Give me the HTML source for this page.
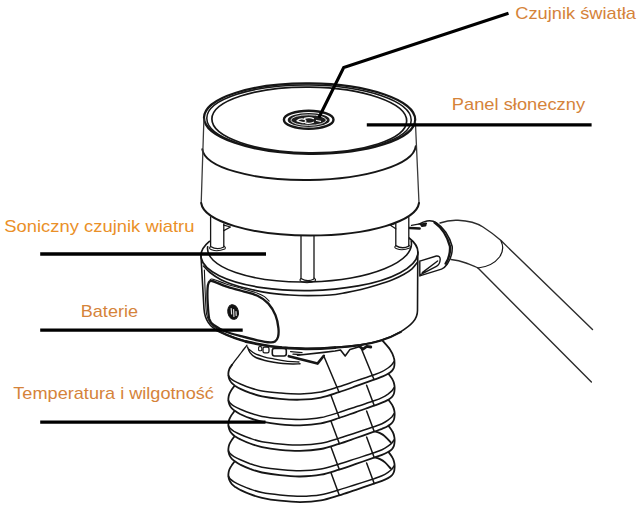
<!DOCTYPE html>
<html lang="pl"><head><meta charset="utf-8"><title>Czujnik</title>
<style>
html,body{margin:0;padding:0;background:#fff;}
body{width:640px;height:514px;overflow:hidden;font-family:"Liberation Sans",sans-serif;}
svg{display:block}
svg text{font-family:"Liberation Sans",sans-serif;font-size:17px;}
</style></head><body>
<svg width="640" height="514" viewBox="0 0 640 514" fill="none" stroke="#161616" stroke-linecap="round" stroke-linejoin="round">
<rect x="0" y="0" width="640" height="514" fill="#fff" stroke="none"/>
<path d="M234.2,461.9 L231.2,466.1 L229.2,470.0 L228.4,474.0 L228.7,477.8 L229.9,481.2 L231.9,484.1 L235.2,486.9 L240.4,490.0 L250.0,494.2 L262.0,497.8 L280.0,500.7 L300.0,502.1 L320.9,500.4 L339.0,495.4 L356.0,489.8 L374.0,483.7 L382.0,480.8 L388.0,478.1 L391.8,475.4 L393.9,472.0 L394.6,467.4 L394.3,462.9 L392.6,457.9 L388.6,452.1Z" fill="#fff" stroke="none"/>
<path d="M234.2,461.9 C233.7,462.6 232.0,464.7 231.2,466.1 C230.4,467.4 229.7,468.7 229.2,470.0 C228.7,471.3 228.5,472.7 228.4,474.0 C228.3,475.3 228.4,476.6 228.7,477.8 C228.9,479.0 229.4,480.2 229.9,481.2 C230.4,482.3 231.0,483.1 231.9,484.1 C232.8,485.0 233.8,485.9 235.2,486.9 C236.6,487.8 237.9,488.7 240.4,490.0 C242.9,491.2 246.4,492.9 250.0,494.2 C253.6,495.5 257.0,496.7 262.0,497.8 C267.0,498.9 273.7,500.0 280.0,500.7 C286.3,501.4 293.2,502.1 300.0,502.1 C306.8,502.0 314.4,501.5 320.9,500.4 C327.4,499.3 333.1,497.2 339.0,495.4 C344.9,493.6 350.2,491.7 356.0,489.8 C361.8,487.8 369.7,485.2 374.0,483.7 C378.3,482.2 379.7,481.8 382.0,480.8 C384.3,479.9 386.4,479.0 388.0,478.1 C389.6,477.2 390.8,476.4 391.8,475.4 C392.8,474.3 393.4,473.3 393.9,472.0 C394.4,470.7 394.5,468.9 394.6,467.4 C394.7,465.9 394.6,464.5 394.3,462.9 C394.0,461.3 393.6,459.7 392.6,457.9 C391.7,456.1 389.3,453.0 388.6,452.1" stroke-width="1.8" />
<path d="M228.5,476.2 C228.8,476.7 229.5,478.1 230.4,479.1 C231.3,480.0 232.3,480.8 234.0,481.8 C235.7,482.8 237.7,483.9 240.4,485.1 C243.1,486.3 246.4,487.7 250.0,489.0 C253.6,490.2 257.0,491.5 262.0,492.5 C267.0,493.5 273.6,494.3 280.0,494.9 C286.4,495.5 293.6,496.3 300.4,496.3 C307.2,496.2 314.5,495.8 320.9,494.7 C327.3,493.7 332.8,491.7 338.6,490.0 C344.5,488.3 350.1,486.3 356.0,484.5 C361.9,482.6 369.7,480.2 374.0,478.8 C378.3,477.3 379.7,476.8 382.0,475.7 C384.3,474.7 386.4,473.4 388.0,472.3 C389.6,471.2 390.8,470.2 391.8,469.2 C392.8,468.1 393.6,466.5 394.0,466.0" stroke-width="1.5" />
<path d="M331.0,472.8 L339.3,495.2" stroke-width="1.5" />
<path d="M366.6,463.0 L374.2,483.5" stroke-width="1.5" />
<path d="M375.2,457.6 C376.0,457.8 378.4,458.3 380.0,459.1 C381.6,459.9 383.2,460.8 385.0,462.4 C386.8,464.0 389.8,467.5 390.8,468.5" stroke-width="1.9" />
<path d="M234.2,436.7 L231.2,440.9 L229.2,444.8 L228.4,448.8 L228.7,452.6 L229.9,456.0 L231.9,458.9 L235.2,461.6 L240.4,464.7 L250.0,468.9 L262.0,472.5 L280.0,475.2 L300.0,476.5 L320.9,474.7 L339.0,469.6 L356.0,463.9 L374.0,457.7 L382.0,454.8 L388.0,452.0 L391.8,449.3 L393.9,445.9 L394.6,441.3 L394.3,436.8 L392.6,431.8 L388.6,426.0Z" fill="#fff" stroke="none"/>
<path d="M234.2,436.7 C233.7,437.4 232.0,439.5 231.2,440.9 C230.4,442.2 229.7,443.5 229.2,444.8 C228.7,446.1 228.5,447.5 228.4,448.8 C228.3,450.1 228.4,451.4 228.7,452.6 C228.9,453.8 229.4,455.0 229.9,456.0 C230.4,457.1 231.0,457.9 231.9,458.9 C232.8,459.8 233.8,460.6 235.2,461.6 C236.6,462.6 237.9,463.5 240.4,464.7 C242.9,465.9 246.4,467.6 250.0,468.9 C253.6,470.1 257.0,471.4 262.0,472.5 C267.0,473.5 273.7,474.6 280.0,475.2 C286.3,475.9 293.2,476.6 300.0,476.5 C306.8,476.4 314.4,475.9 320.9,474.7 C327.4,473.6 333.1,471.4 339.0,469.6 C344.9,467.8 350.2,465.9 356.0,463.9 C361.8,461.9 369.7,459.2 374.0,457.7 C378.3,456.2 379.7,455.8 382.0,454.8 C384.3,453.9 386.4,452.9 388.0,452.0 C389.6,451.1 390.8,450.3 391.8,449.3 C392.8,448.2 393.4,447.2 393.9,445.9 C394.4,444.6 394.5,442.8 394.6,441.3 C394.7,439.8 394.6,438.4 394.3,436.8 C394.0,435.2 393.6,433.6 392.6,431.8 C391.7,430.0 389.3,427.0 388.6,426.0" stroke-width="1.8" />
<path d="M228.5,451.0 C228.8,451.5 229.5,452.9 230.4,453.8 C231.3,454.8 232.3,455.6 234.0,456.6 C235.7,457.6 237.7,458.6 240.4,459.8 C243.1,461.0 246.4,462.4 250.0,463.7 C253.6,464.9 257.0,466.2 262.0,467.2 C267.0,468.1 273.6,468.9 280.0,469.4 C286.4,470.0 293.6,470.8 300.4,470.7 C307.2,470.6 314.5,470.1 320.9,469.0 C327.3,467.9 332.8,465.9 338.6,464.2 C344.5,462.5 350.1,460.5 356.0,458.6 C361.9,456.7 369.7,454.3 374.0,452.8 C378.3,451.3 379.7,450.8 382.0,449.7 C384.3,448.6 386.4,447.3 388.0,446.2 C389.6,445.1 390.8,444.1 391.8,443.1 C392.8,442.0 393.6,440.4 394.0,439.9" stroke-width="1.5" />
<path d="M331.0,447.1 L339.3,469.4" stroke-width="1.5" />
<path d="M366.6,437.1 L374.2,457.5" stroke-width="1.5" />
<path d="M375.2,431.6 C376.0,431.8 378.4,432.3 380.0,433.1 C381.6,433.9 383.2,434.8 385.0,436.4 C386.8,437.9 389.8,441.4 390.8,442.4" stroke-width="1.9" />
<path d="M234.2,411.5 L231.2,415.6 L229.2,419.6 L228.4,423.6 L228.7,427.4 L229.9,430.8 L231.9,433.6 L235.2,436.4 L240.4,439.4 L250.0,443.5 L262.0,447.1 L280.0,449.8 L300.0,450.9 L320.9,449.0 L339.0,443.8 L356.0,438.0 L374.0,431.7 L382.0,428.8 L388.0,425.9 L391.8,423.2 L393.9,419.8 L394.6,415.2 L394.3,410.7 L392.6,405.7 L388.6,399.9Z" fill="#fff" stroke="none"/>
<path d="M234.2,411.5 C233.7,412.2 232.0,414.3 231.2,415.6 C230.4,417.0 229.7,418.3 229.2,419.6 C228.7,420.9 228.5,422.3 228.4,423.6 C228.3,424.9 228.4,426.2 228.7,427.4 C228.9,428.6 229.4,429.8 229.9,430.8 C230.4,431.9 231.0,432.7 231.9,433.6 C232.8,434.6 233.8,435.4 235.2,436.4 C236.6,437.3 237.9,438.2 240.4,439.4 C242.9,440.6 246.4,442.3 250.0,443.5 C253.6,444.8 257.0,446.0 262.0,447.1 C267.0,448.1 273.7,449.1 280.0,449.8 C286.3,450.4 293.2,451.0 300.0,450.9 C306.8,450.8 314.4,450.2 320.9,449.0 C327.4,447.8 333.1,445.6 339.0,443.8 C344.9,442.0 350.2,440.0 356.0,438.0 C361.8,436.0 369.7,433.2 374.0,431.7 C378.3,430.1 379.7,429.7 382.0,428.8 C384.3,427.8 386.4,426.9 388.0,425.9 C389.6,425.0 390.8,424.2 391.8,423.2 C392.8,422.2 393.4,421.1 393.9,419.8 C394.4,418.5 394.5,416.7 394.6,415.2 C394.7,413.7 394.6,412.3 394.3,410.7 C394.0,409.1 393.6,407.5 392.6,405.7 C391.7,403.9 389.3,400.9 388.6,399.9" stroke-width="1.8" />
<path d="M228.5,425.8 C228.8,426.3 229.5,427.7 230.4,428.6 C231.3,429.6 232.3,430.4 234.0,431.4 C235.7,432.3 237.7,433.4 240.4,434.5 C243.1,435.7 246.4,437.1 250.0,438.3 C253.6,439.5 257.0,440.8 262.0,441.8 C267.0,442.7 273.6,443.4 280.0,444.0 C286.4,444.5 293.6,445.2 300.4,445.1 C307.2,445.0 314.5,444.4 320.9,443.3 C327.3,442.2 332.8,440.2 338.6,438.4 C344.5,436.6 350.1,434.6 356.0,432.7 C361.9,430.8 369.7,428.3 374.0,426.8 C378.3,425.3 379.7,424.8 382.0,423.7 C384.3,422.6 386.4,421.3 388.0,420.1 C389.6,419.0 390.8,418.0 391.8,417.0 C392.8,415.9 393.6,414.3 394.0,413.8" stroke-width="1.5" />
<path d="M331.0,421.3 L339.3,443.6" stroke-width="1.5" />
<path d="M366.6,411.1 L374.2,431.5" stroke-width="1.5" />
<path d="M234.2,386.2 L231.2,390.4 L229.2,394.4 L228.4,398.4 L228.7,402.2 L229.9,405.6 L231.9,408.4 L235.2,411.1 L240.4,414.2 L250.0,418.2 L262.0,421.7 L280.0,424.3 L300.0,425.3 L320.9,423.3 L339.0,418.0 L356.0,412.1 L374.0,405.7 L382.0,402.7 L388.0,399.9 L391.8,397.1 L393.9,393.7 L394.6,389.1 L394.3,384.6 L392.6,379.6 L388.6,373.9Z" fill="#fff" stroke="none"/>
<path d="M234.2,386.2 C233.7,386.9 232.0,389.1 231.2,390.4 C230.4,391.8 229.7,393.1 229.2,394.4 C228.7,395.7 228.5,397.1 228.4,398.4 C228.3,399.7 228.4,401.0 228.7,402.2 C228.9,403.4 229.4,404.6 229.9,405.6 C230.4,406.6 231.0,407.5 231.9,408.4 C232.8,409.3 233.8,410.2 235.2,411.1 C236.6,412.1 237.9,413.0 240.4,414.2 C242.9,415.3 246.4,417.0 250.0,418.2 C253.6,419.5 257.0,420.7 262.0,421.7 C267.0,422.7 273.7,423.7 280.0,424.3 C286.3,424.9 293.2,425.5 300.0,425.3 C306.8,425.1 314.4,424.5 320.9,423.3 C327.4,422.1 333.1,419.9 339.0,418.0 C344.9,416.1 350.2,414.1 356.0,412.1 C361.8,410.0 369.7,407.3 374.0,405.7 C378.3,404.1 379.7,403.7 382.0,402.7 C384.3,401.8 386.4,400.8 388.0,399.9 C389.6,398.9 390.8,398.1 391.8,397.1 C392.8,396.1 393.4,395.0 393.9,393.7 C394.4,392.4 394.5,390.6 394.6,389.1 C394.7,387.6 394.6,386.2 394.3,384.6 C394.0,383.0 393.6,381.4 392.6,379.6 C391.7,377.8 389.3,374.8 388.6,373.9" stroke-width="1.8" />
<path d="M228.5,400.6 C228.8,401.1 229.5,402.5 230.4,403.4 C231.3,404.3 232.3,405.2 234.0,406.1 C235.7,407.1 237.7,408.1 240.4,409.3 C243.1,410.4 246.4,411.8 250.0,413.0 C253.6,414.2 257.0,415.5 262.0,416.4 C267.0,417.3 273.6,418.0 280.0,418.5 C286.4,419.0 293.6,419.6 300.4,419.5 C307.2,419.3 314.5,418.8 320.9,417.6 C327.3,416.5 332.8,414.4 338.6,412.6 C344.5,410.8 350.1,408.8 356.0,406.8 C361.9,404.8 369.7,402.3 374.0,400.8 C378.3,399.3 379.7,398.8 382.0,397.6 C384.3,396.5 386.4,395.2 388.0,394.1 C389.6,392.9 390.8,391.9 391.8,390.9 C392.8,389.8 393.6,388.2 394.0,387.7" stroke-width="1.5" />
<path d="M331.0,395.6 L339.3,417.8" stroke-width="1.5" />
<path d="M366.6,385.2 L374.2,405.5" stroke-width="1.5" />
<path d="M247.0,345.2 L242.0,351.6 L237.0,358.2 L232.0,364.8 L229.4,368.8 L228.4,373.0 L228.7,377.0 L229.9,380.4 L231.9,383.2 L235.2,385.9 L240.4,388.9 L250.0,392.9 L262.0,396.3 L280.0,398.8 L300.0,399.7 L320.9,397.6 L339.0,392.2 L356.0,386.2 L374.0,379.7 L382.0,376.7 L388.0,373.8 L391.8,371.0 L393.9,367.6 L394.5,363.5 L393.8,357.5 L390.0,349.5 L381.5,339.5Z" fill="#fff" stroke="none"/>
<path d="M247.0,345.2 C246.2,346.3 243.7,349.4 242.0,351.6 C240.3,353.8 238.7,356.0 237.0,358.2 C235.3,360.4 232.8,363.7 232.0,364.8" stroke-width="1.3" />
<path d="M232.0,364.8 C231.6,365.5 230.0,367.4 229.4,368.8 C228.8,370.2 228.5,371.6 228.4,373.0 C228.3,374.4 228.4,375.8 228.7,377.0 C228.9,378.2 229.4,379.4 229.9,380.4 C230.4,381.4 231.0,382.3 231.9,383.2 C232.8,384.1 233.8,384.9 235.2,385.9 C236.6,386.8 237.9,387.7 240.4,388.9 C242.9,390.1 246.4,391.7 250.0,392.9 C253.6,394.1 257.0,395.3 262.0,396.3 C267.0,397.3 273.7,398.2 280.0,398.8 C286.3,399.4 293.2,399.9 300.0,399.7 C306.8,399.5 314.4,398.9 320.9,397.6 C327.4,396.4 333.1,394.1 339.0,392.2 C344.9,390.3 350.2,388.3 356.0,386.2 C361.8,384.1 369.7,381.3 374.0,379.7 C378.3,378.1 379.7,377.7 382.0,376.7 C384.3,375.7 386.4,374.8 388.0,373.8 C389.6,372.9 390.8,372.0 391.8,371.0 C392.8,370.0 393.4,368.9 393.9,367.6 C394.3,366.4 394.5,365.2 394.5,363.5 C394.5,361.8 394.6,359.8 393.8,357.5 C393.1,355.2 392.1,352.5 390.0,349.5 C387.9,346.5 382.9,341.2 381.5,339.5" stroke-width="1.8" />
<path d="M228.5,375.4 C228.8,375.9 229.5,377.3 230.4,378.2 C231.3,379.1 232.3,379.9 234.0,380.9 C235.7,381.9 237.7,382.9 240.4,384.0 C243.1,385.1 246.4,386.5 250.0,387.7 C253.6,388.9 257.0,390.1 262.0,391.0 C267.0,391.9 273.6,392.5 280.0,393.0 C286.4,393.5 293.6,394.1 300.4,393.9 C307.2,393.7 314.5,393.1 320.9,391.9 C327.3,390.7 332.8,388.6 338.6,386.8 C344.5,385.0 350.1,382.9 356.0,380.9 C361.9,378.9 369.7,376.4 374.0,374.8 C378.3,373.2 379.7,372.7 382.0,371.6 C384.3,370.5 386.4,369.1 388.0,368.0 C389.6,366.9 390.8,365.9 391.8,364.8 C392.8,363.7 393.6,362.1 394.0,361.6" stroke-width="1.5" />
<path d="M323.8,356.0 L339.0,392.0" stroke-width="1.5" />
<path d="M361.4,348.8 L374.0,379.5" stroke-width="1.5" />
<path d="M247.5,347.0 C247.9,347.9 248.8,350.9 250.0,352.6 C251.2,354.3 252.7,355.7 255.0,357.0 C257.3,358.3 260.9,359.3 264.0,360.2 C267.1,361.1 270.5,361.7 273.7,362.2 C276.9,362.7 279.9,363.1 283.0,363.4 C286.1,363.7 289.7,363.9 292.5,364.0 C295.3,364.1 298.8,363.8 300.0,363.8" stroke-width="1.5" />
<path d="M249.0,349.4 C250.0,350.1 252.5,352.5 255.0,353.7 C257.5,354.9 260.9,355.9 264.0,356.8 C267.1,357.7 270.5,358.3 273.7,358.9 C276.9,359.5 279.9,360.1 283.0,360.6 C286.1,361.1 289.8,361.5 292.5,361.7 C295.2,361.9 297.9,361.9 299.0,362.0" stroke-width="1.3" />
<rect x="272.3" y="348.4" width="14" height="7.6" rx="2.2" stroke-width="1.6" fill="#fff"/>
<rect x="263" y="347.2" width="6" height="5.6" rx="1.6" stroke-width="1.3" fill="#fff"/>
<rect x="258.6" y="346.6" width="3.2" height="4.2" rx="1" stroke-width="1.1" fill="#fff"/>
<path d="M290.6,351.6 L302,352.6 M293,354.2 l7,0.3" stroke-width="1.3" />
<path d="M288.8,356.2 L317.5,363.6 L323.8,355.8" stroke-width="2.6" />
<path d="M297.5,355.2 L323.8,352.4 L335,351 L340.5,350 L345.2,356 L350,349.4 L360,346.6" stroke-width="1.6" />
<path d="M359,346 l4,3.2 l3.8,-2.8 l4,0.6" stroke-width="2.8" />
<path d="M440,223 C447,220.5 452,220 458,220.3 C468,220.8 476,222.5 483,227 C490,231.5 496,236 501,241 L592.5,329.6 L591.4,382 L478,268 C472,265.5 466,262.5 460,261 L451,259.5 Z" fill="#fff" stroke="none"/>
<path d="M440,223 C447,220.5 452,220 458,220.3 C468,220.8 476,222.5 483,227 C490,231.5 496,236 501,240.6 L592.5,329.6" stroke-width="1.4" stroke="#2c2c2c"/>
<path d="M451,259.5 C456,260 462,261.5 466,263 C471,265 475,266.5 478,268 L591.4,382" stroke-width="1.4" stroke="#2c2c2c"/>
<path d="M501,241 C503.5,246 503,252 499.5,257 C495,263 487,267 478,268" stroke-width="1.2" />
<path d="M413,227 C418,223 423,221 427,221 C431,220.6 434.2,221.4 436,222.6 C443,226 449,236 452,246.5 C452.4,253 451,258 447.3,264 C445,267 443,268.5 441.5,269.1 L419.6,276 L417,277 L417,250 Z" fill="#fff" stroke="none"/>
<path d="M419,224.2 C422,222.4 424.5,221.4 427,221 C431,220.4 434,221.2 436.5,222.8 C443,227 449.5,236 452.2,246.5 C452.6,253 451,258.5 447.3,264 C445.2,267 443.3,268.5 441.5,269.1 L420.5,275.6" stroke-width="1.5" />
<path d="M434.6,222.6 C441.5,227.5 447.6,237 450,246.5 C450.4,253 449,258.5 445.6,263.6" stroke-width="2.4" />
<path d="M419.8,261.2 L436.4,256 C439,255.8 440.3,257 440.2,259.5 C440,262.5 439,265 436.4,266.4 L421,274.4 M419.8,261 L419.8,276 M422.3,272.6 L437.6,261" stroke-width="1.4" />
<path d="M409.8,228 L419.6,228.5" stroke-width="2.6" />
<path d="M411.5,225.3 L421,223.7" stroke-width="1.3" />
<path d="M421,224.6 L426,223.6 M422,225.8 l3.4,-0.5" stroke-width="2.2" />
<path d="M201,256 C202,275 203.5,300 204,309 C205,322 212,328 218.4,331 C225,334.2 230,336.2 235,338 C243,340.6 250,342.4 258.4,344.2 C266,345.7 274,346.6 282,347.4 C290,348 298,348.5 305.3,348.6 C315,348.7 325,348.2 335,347.4 C344,346.8 352,346 360.4,344.9 C368,343.7 375,342.2 381,340.3 C388,338 395,335 401,331.6 C411,325.4 417.5,319.5 417.5,310.5 L417.8,252 A108.5,39 -1 0 0 201,256Z" fill="#fff" stroke="none"/>
<ellipse cx="309.5" cy="254" rx="108.5" ry="36.6" transform="rotate(-1 309.5 254)" stroke="none" fill="#fff"/>
<path d="M209.4,241.4 A108.5,36.6 -1 1 0 409.1,238.0" stroke-width="1.7" />
<path d="M207.7,246.7 A102,35.5 -1.5 1 0 411.2,241.4" stroke-width="1.6" />
<path d="M203.5,266.0 C204.6,267.1 207.1,270.2 210.0,272.5 C212.9,274.8 216.7,277.5 221.0,279.7 C225.3,281.9 230.8,283.8 236.0,285.5 C241.2,287.2 246.8,288.5 252.5,289.8 C258.2,291.1 263.8,292.2 270.0,293.1 C276.2,294.0 283.7,294.6 290.0,295.0 C296.3,295.4 301.3,295.6 308.0,295.6 C314.7,295.6 323.7,295.5 330.0,295.0 C336.3,294.5 340.8,293.5 346.0,292.6 C351.2,291.7 355.8,290.8 361.0,289.5 C366.2,288.2 371.8,286.6 377.0,285.0 C382.2,283.4 388.0,281.5 392.5,279.7 C397.0,277.9 400.8,276.0 404.0,274.2 C407.2,272.4 409.7,270.8 412.0,268.8 C414.3,266.8 416.7,263.1 417.6,262.0" stroke-width="1.6" />
<path d="M201,256 C202,275 203.5,300 204,309 C205,322 212,328 218.4,331 C225,334.2 230,336.2 235,338 C243,340.6 250,342.4 258.4,344.2 C266,345.7 274,346.6 282,347.4 C290,348 298,348.5 305.3,348.6 C315,348.7 325,348.2 335,347.4 C344,346.8 352,346 360.4,344.9 C368,343.7 375,342.2 381,340.3 C388,338 395,335 401,331.6 C411,325.4 417.5,319.5 417.5,310.5 L417.8,252" stroke-width="1.6" />
<path d="M216,330 C225,334.4 230,336.4 235,338.2 C240,340 243,340.8 246,341.6" stroke-width="2.3" />
<path d="M246,341.6 C266,346 274,346.8 282,347.6 C290,348.2 298,348.7 305.3,348.8 C315,348.9 325,348.4 335,347.6" stroke-width="2.7" />
<path d="M335,347.6 C344,347 352,346.2 360.4,345.1 C368,343.9 375,342.4 381,340.5 C388,338.2 395,335.2 401,331.8" stroke-width="2.1" />
<path d="M204.4,270 C205,290 205.5,305 206.5,314 C208,322 212,326.5 218,329.6" stroke-width="1.1" />
<path d="M212.0,281.0 C214.9,281.6 221.0,284.7 226.0,286.4 C231.0,288.1 236.8,289.4 242.0,291.0 C247.2,292.6 253.1,293.7 257.5,295.8 C261.9,297.9 265.4,300.4 268.4,303.6 C271.4,306.9 273.8,311.2 275.5,315.3 C277.2,319.4 278.0,324.4 278.4,328.0 C278.8,331.6 278.6,334.8 278.0,337.0 C277.4,339.2 276.3,340.6 275.0,341.5 C273.7,342.4 272.9,342.6 270.0,342.4 C267.1,342.2 262.2,341.3 257.5,340.3 C252.8,339.3 247.2,337.8 242.0,336.4 C236.8,335.0 230.6,333.5 226.0,331.7 C221.4,329.9 217.3,327.6 214.5,325.5 C211.7,323.4 210.5,323.1 209.3,319.0 C208.2,314.9 207.9,306.2 207.6,301.0 C207.3,295.8 207.4,291.0 207.6,288.0 C207.8,285.0 207.9,284.2 208.6,283.0 C209.3,281.8 209.1,280.4 212.0,281.0Z" stroke-width="2.3" />
<path d="M210.2,279.6 C210.7,279.5 210.4,278.5 213.0,279.2 C215.6,279.9 221.2,282.3 226.0,283.9 C230.8,285.4 236.8,286.9 242.0,288.5 C247.2,290.1 253.8,291.8 257.5,293.2 C261.2,294.6 262.6,295.3 264.5,296.6 C266.4,297.9 268.4,300.4 269.2,301.2" stroke-width="1.1" />
<ellipse cx="233.1" cy="312" rx="5.3" ry="7.4" transform="rotate(-12 233.1 312)" stroke-width="1" fill="#111"/>
<path d="M231.2,308.5 L231.6,314 M233.6,309.5 L233.9,316.5 M236,311.5 L236.2,315.5" stroke="#ddd" stroke-width="1.2" fill="none"/>
<path d="M210.6,217 L210.6,246.5 Q217.2,250.5 223.8,247.0 L223.8,224" fill="#fff" stroke-width="1.3"/>
<path d="M210.6,246.5 Q208.1,248.5 211.6,249.7 Q217.2,252.0 224.8,249.0 Q226.3,247.5 223.8,246.0" stroke-width="1.1"/>
<path d="M395.8,224 L395.8,245.6 Q402.3,249.6 408.8,246.1 L408.8,217.5" fill="#fff" stroke-width="1.3"/>
<path d="M395.8,245.6 Q393.3,247.6 396.8,248.79999999999998 Q402.3,251.1 409.8,248.1 Q411.3,246.6 408.8,245.1" stroke-width="1.1"/>
<path d="M301,236 L301,278.5 Q307.5,282.5 314,279.0 L314,236" fill="#fff" stroke-width="1.3"/>
<path d="M301,278.5 Q298.5,280.5 302,281.7 Q307.5,284.0 315,281.0 Q316.5,279.5 314,278.0" stroke-width="1.1"/>
<path d="M223.8,225.2 L230.5,227 L223.8,230.6" stroke-width="1.2" />
<path d="M395.8,223.3 L390.4,225.2 L395.8,228.8" stroke-width="1.2" />
<path d="M204,119 L201.2,203 A109,34 0 0 0 419,203 L415.3,121 Z" fill="#fff" stroke="none"/>
<g transform="rotate(0.6 309.5 118.6)">
<ellipse cx="309.6" cy="118.6" rx="105.6" ry="35.2" stroke-width="2.2" fill="#fff"/>
<ellipse cx="309" cy="119.2" rx="102.2" ry="34.2" stroke-width="1.5"/>
<ellipse cx="309.3" cy="120" rx="97.4" ry="32.9" stroke-width="1.7"/>
</g>
<path d="M202.3,149.3 A106.8,33.6 -0.8 0 0 415.7,146.3" stroke-width="1.9" />
<path d="M203.9,119 L201.2,203 M419,203 L415.4,122" stroke-width="1.3" stroke="#3a3a3a"/>
<path d="M201.2,203 A109,34 0 0 0 419,203" stroke-width="2" />
<ellipse cx="308.7" cy="119.7" rx="24.8" ry="9" stroke-width="2.4" fill="#fff"/>
<ellipse cx="308.7" cy="120" rx="21" ry="6.9" stroke="none" fill="#1d1d1d"/>
<ellipse cx="308.7" cy="120.1" rx="17.8" ry="5.3" stroke="#e8e8e8" stroke-width="0.9" fill="none"/>
<path d="M297,120.8 q3.6,-3.2 8,-1.2 q2.6,2.6 -2,3 z M304.5,118.4 q5,-1.6 9,0.2 M305.5,122.8 q4.5,1.2 8,-0.6 M316.5,120.5 l4,0.8" stroke="#f4f4f4" stroke-width="1.25" fill="none"/>
<path d="M40.2,254 L266,254" stroke="#000" stroke-width="3.3" stroke-linecap="butt"/>
<path d="M40.2,330.1 L242.7,330.1" stroke="#000" stroke-width="3.3" stroke-linecap="butt"/>
<path d="M40.2,422.1 L265.5,422.1" stroke="#000" stroke-width="3.3" stroke-linecap="butt"/>
<path d="M366.8,124.9 L591.6,124.9" stroke="#000" stroke-width="3.3" stroke-linecap="butt"/>
<path d="M508.5,13.2 L343.7,67.5 L318.8,117.8" stroke="#000" stroke-width="3.1" stroke-linejoin="miter" stroke-linecap="butt"/>
<text x="4.3" y="231.6" textLength="190.2" lengthAdjust="spacingAndGlyphs" fill="#ea9028" stroke="none">Soniczny czujnik wiatru</text>
<text x="80.8" y="316.5" textLength="57.2" lengthAdjust="spacingAndGlyphs" fill="#d5833a" stroke="none">Baterie</text>
<text x="13.3" y="398.7" textLength="200.6" lengthAdjust="spacingAndGlyphs" fill="#d5833a" stroke="none">Temperatura i wilgotność</text>
<text x="515.2" y="18.7" textLength="120.8" lengthAdjust="spacingAndGlyphs" fill="#d5833a" stroke="none">Czujnik światła</text>
<text x="451.8" y="109.7" textLength="133.3" lengthAdjust="spacingAndGlyphs" fill="#d5833a" stroke="none">Panel słoneczny</text>
</svg>
</body></html>
